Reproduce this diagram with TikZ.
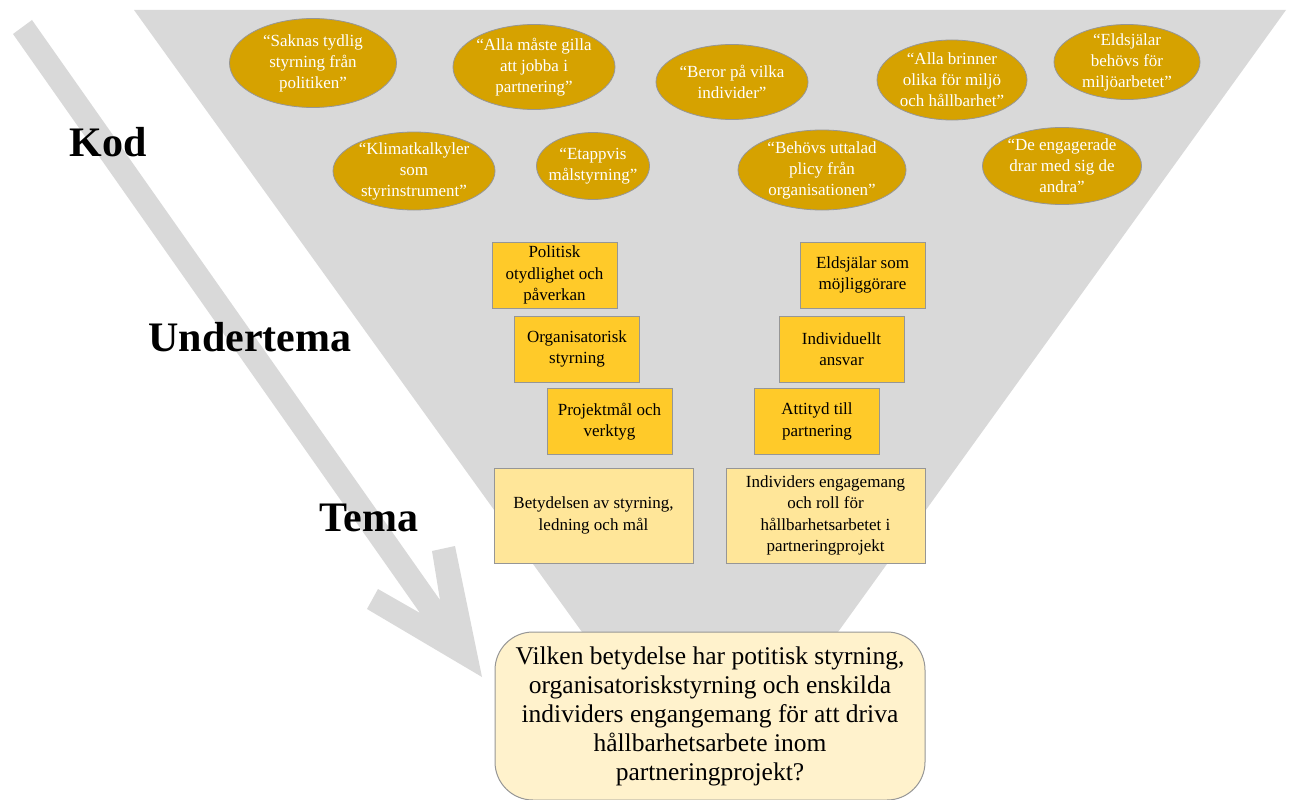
\documentclass[tikz,border=0pt]{standalone}
\usepackage{fontspec}
\setmainfont{Liberation Serif}
\usetikzlibrary{shapes.geometric}
\definecolor{funnelgray}{RGB}{217,217,217}
\definecolor{codegold}{RGB}{214,162,0}
\definecolor{subyellow}{RGB}{255,202,41}
\definecolor{themeyellow}{RGB}{255,230,153}
\definecolor{questionfill}{RGB}{255,242,204}
\definecolor{edgegray}{RGB}{150,150,150}
\tikzset{
  codeell/.style={ellipse, draw=edgegray, line width=0.8pt, fill=codegold, inner sep=0pt},
  codetext/.style={text=white, align=center, font=\fontsize{17}{21}\selectfont, inner sep=0pt},
  subbox/.style={rectangle, draw=edgegray, line width=0.9pt, fill=subyellow, align=center,
    font=\fontsize{17}{21.5}\selectfont, inner sep=0pt, minimum width=125pt, minimum height=66pt},
  themebox/.style={rectangle, draw=edgegray, line width=0.9pt, fill=themeyellow, align=center,
    font=\fontsize{17}{21.5}\selectfont, inner sep=0pt, minimum width=199pt, minimum height=95pt},
  levellabel/.style={font=\bfseries\fontsize{42}{46}\selectfont, inner sep=0pt},
}
\begin{document}
\begin{tikzpicture}[x=1pt, y=-1pt]
\useasboundingbox (0,0) rectangle (1290,800);

% funnel
\fill[funnelgray] (134,10) -- (1286,10) -- (717,800) -- (703,800) -- cycle;

% downward arrow with open chevron head
\coordinate (shaftTR) at (32,20);
\coordinate (shaftBR) at (440,600);
\coordinate (barbRin) at (432,551);
\coordinate (barbRout) at (455,546);
\coordinate (tip) at (482,677);
\coordinate (barbLout) at (367,609);
\coordinate (barbLin) at (378,589);
\coordinate (shaftBL) at (420,613);
\coordinate (shaftTL) at (13,34);
\fill[funnelgray] (shaftTR) -- (shaftBR) -- (barbRin) -- (barbRout) -- (tip)
  -- (barbLout) -- (barbLin) -- (shaftBL) -- (shaftTL) -- cycle;

% level labels
\node[levellabel] (kod) at (108,142) {Kod};
\node[levellabel] (undertema) at (250,337) {Undertema};
\node[levellabel] (tema) at (369,518) {Tema};

% codes
\node[codeell, minimum width=167pt, minimum height=89pt] (c1) at (313,63) {};
\node[codetext] (t1) at (c1) {“Saknas tydlig\\styrning från\\politiken”};
\node[codeell, minimum width=162pt, minimum height=85pt] (c2) at (534,67) {};
\node[codetext] (t2) at (c2) {“Alla måste gilla\\att jobba i\\partnering”};
\node[codeell, minimum width=152pt, minimum height=75pt] (c3) at (732,82) {};
\node[codetext] (t3) at (c3) {“Beror på vilka\\individer”};
\node[codeell, minimum width=150pt, minimum height=80pt] (c4) at (952,80) {};
\node[codetext] (t4) at (c4) {“Alla brinner\\olika för miljö\\och hållbarhet”};
\node[codeell, minimum width=146pt, minimum height=75pt] (c5) at (1127,62) {};
\node[codetext] (t5) at (c5) {“Eldsjälar\\behövs för\\miljöarbetet”};
\node[codeell, minimum width=162pt, minimum height=78pt] (c6) at (414,171) {};
\node[codetext] (t6) at (c6) {“Klimatkalkyler\\som\\styrinstrument”};
\node[codeell, minimum width=113pt, minimum height=67pt] (c7) at (593,166) {};
\node[codetext] (t7) at (c7) {“Etappvis\\målstyrning”};
\node[codeell, minimum width=168pt, minimum height=80pt] (c8) at (822,170) {};
\node[codetext] (t8) at (c8) {“Behövs uttalad\\plicy från\\organisationen”};
\node[codeell, minimum width=159pt, minimum height=77pt] (c9) at (1062,166) {};
\node[codetext] (t9) at (c9) {“De engagerade\\drar med sig de\\andra”};

% subthemes
\node[subbox] (s1) at (554.5,275) {Politisk\\otydlighet och\\påverkan};
\node[subbox] (s2) at (577,349) {Organisatorisk\\styrning};
\node[subbox] (s3) at (609.5,421.5) {Projektmål och\\verktyg};
\node[subbox] (s4) at (862.5,275) {Eldsjälar som\\möjliggörare};
\node[subbox] (s5) at (841.5,349) {Individuellt\\ansvar};
\node[subbox] (s6) at (817,421.5) {Attityd till\\partnering};

% themes
\node[themebox] (th1) at (593.5,515.5) {Betydelsen av styrning,\\ledning och mål};
\node[themebox] (th2) at (825.5,515.5) {Individers engagemang\\och roll för\\hållbarhetsarbetet i\\partneringprojekt};

% research question
\node[rectangle, rounded corners=38pt, draw=edgegray, line width=1pt, fill=questionfill,
  minimum width=430pt, minimum height=168pt, inner sep=0pt, align=center,
  font=\fontsize{25.5}{29}\selectfont] (rq) at (710,716)
  {Vilken betydelse har potitisk styrning,\\organisatoriskstyrning och enskilda\\individers engangemang för att driva\\hållbarhetsarbete inom\\partneringprojekt?};
\end{tikzpicture}
\end{document}
